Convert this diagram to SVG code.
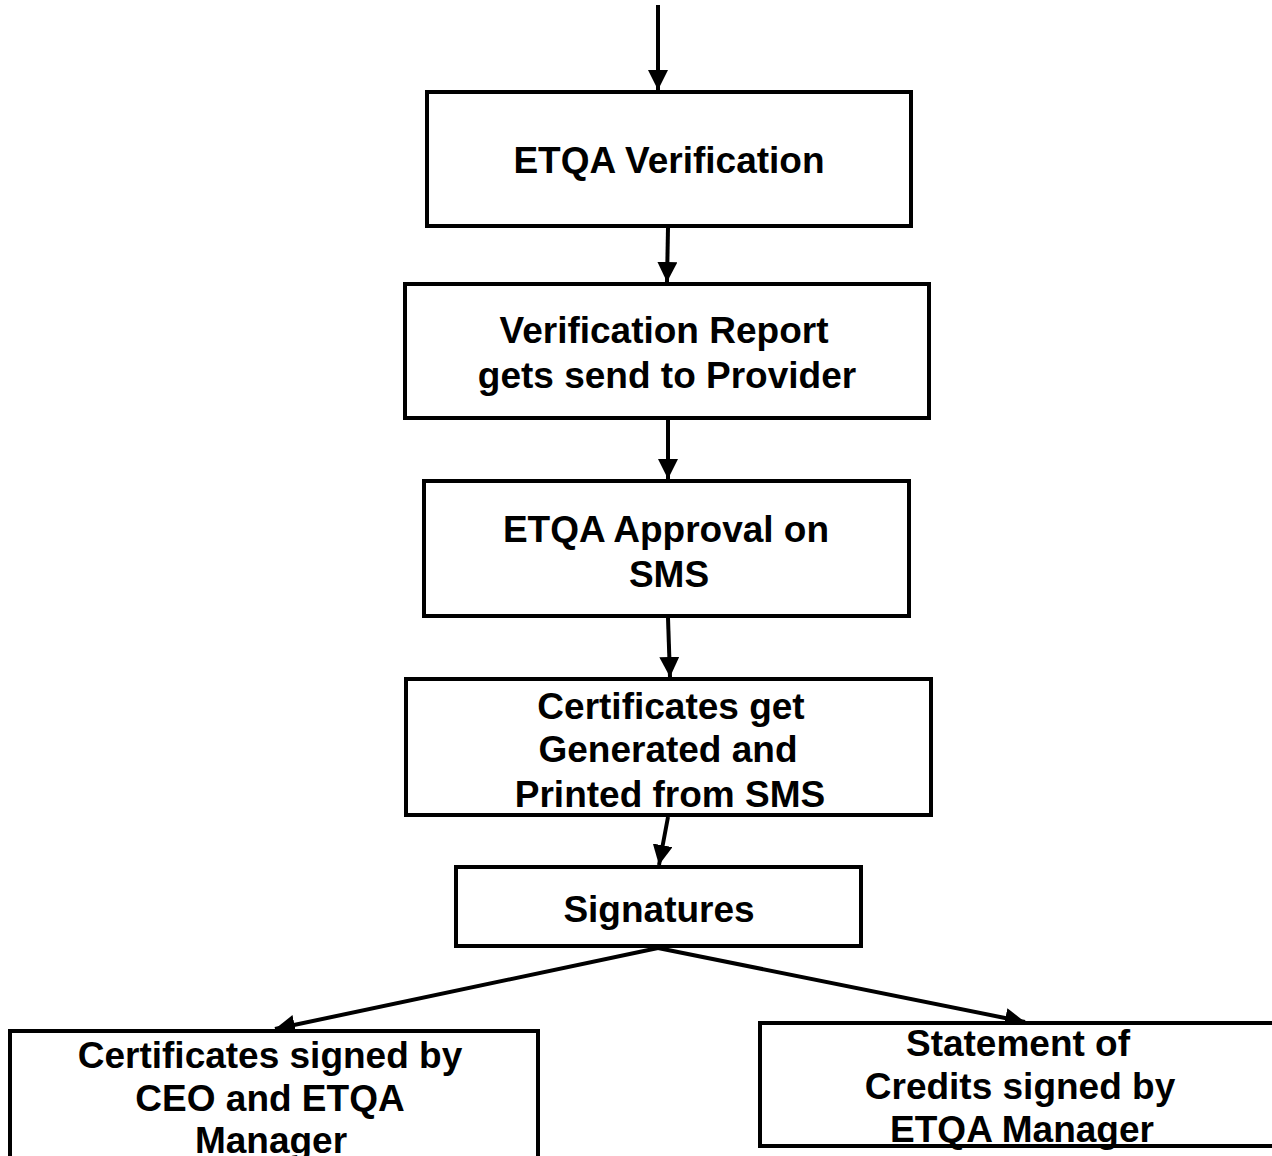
<svg xmlns="http://www.w3.org/2000/svg" width="1272" height="1156" viewBox="0 0 1272 1156">
<defs>
<marker id="ah" viewBox="0 0 10 10" refX="10" refY="5" markerWidth="5" markerHeight="5" markerUnits="strokeWidth" orient="auto">
<path d="M0,0 L10,5 L0,10 z" fill="#000"/>
</marker>
<style>
.box{fill:#fff;stroke:#000;stroke-width:4}
.t{font-family:"Liberation Sans",Arial,sans-serif;font-weight:bold;font-size:37px;text-anchor:middle;fill:#000}
.c{stroke:#000;stroke-width:4;fill:none;marker-end:url(#ah)}
</style>
</defs>
<rect width="1272" height="1156" fill="#fff"/>
<g id="connectors">
<line class="c" x1="658" y1="5" x2="658" y2="90"/>
<line class="c" x1="668" y1="228" x2="667" y2="282"/>
<line class="c" x1="668" y1="420" x2="668" y2="479"/>
<line class="c" x1="668" y1="618" x2="670" y2="677"/>
<line class="c" x1="668" y1="817" x2="659" y2="865"/>
<line class="c" x1="658" y1="948" x2="275" y2="1029"/>
<line class="c" x1="658" y1="948" x2="1025" y2="1022"/>
</g>
<g id="n1"><rect class="box" x="427" y="92" width="484" height="134"/>
<text class="t" x="669" y="173">ETQA Verification</text></g>
<g id="n2"><rect class="box" x="405" y="284" width="524" height="134"/>
<text class="t" x="664" y="343">Verification Report</text>
<text class="t" x="667" y="388">gets send to Provider</text></g>
<g id="n3"><rect class="box" x="424" y="481" width="485" height="135"/>
<text class="t" x="666" y="542">ETQA Approval on</text>
<text class="t" x="669" y="587">SMS</text></g>
<g id="n4"><rect class="box" x="406" y="679" width="525" height="136"/>
<text class="t" x="671" y="719">Certificates get</text>
<text class="t" x="668" y="762">Generated and</text>
<text class="t" x="670" y="807">Printed from SMS</text></g>
<g id="n5"><rect class="box" x="456" y="867" width="405" height="79"/>
<text class="t" x="659" y="922">Signatures</text></g>
<g id="n6"><rect class="box" x="10" y="1031" width="528" height="140"/>
<text class="t" x="270" y="1068">Certificates signed by</text>
<text class="t" x="270" y="1111">CEO and ETQA</text>
<text class="t" x="271" y="1153">Manager</text></g>
<g id="n7"><rect class="box" x="760" y="1023" width="520" height="123"/>
<text class="t" x="1018" y="1056">Statement of</text>
<text class="t" x="1020" y="1099">Credits signed by</text>
<text class="t" x="1022" y="1142">ETQA Manager</text></g>
</svg>
